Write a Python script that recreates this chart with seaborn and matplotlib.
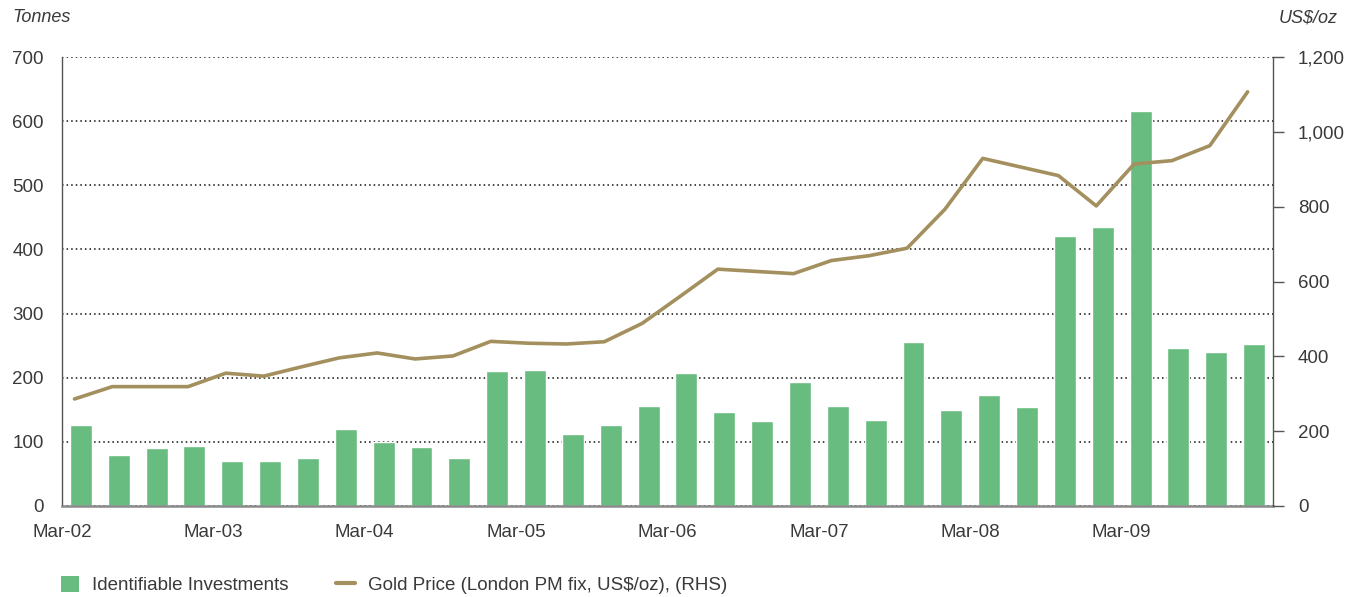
import numpy as np
import pandas as pd
import matplotlib
matplotlib.use("Agg")
import matplotlib.pyplot as plt
import seaborn as sns
from matplotlib.ticker import FuncFormatter
from matplotlib.patches import Patch
from matplotlib.lines import Line2D

# quarterly data, Q1 2002 .. Q4 2009
quarters = [f"{y}Q{q}" for y in range(2002, 2010) for q in range(1, 5)]
investments = [126, 79, 90, 93, 70, 70, 75, 120,
               100, 92, 75, 210, 212, 112, 126, 156,
               207, 146, 132, 194, 156, 134, 255, 149,
               173, 154, 421, 435, 616, 246, 240, 252]
gold_price = [286, 319, 319, 319, 355, 347, 372, 396,
              409, 393, 401, 440, 435, 433, 439, 488,
              560, 633, 627, 621, 656, 669, 689, 793,
              929, 906, 883, 802, 914, 923, 963, 1107]
year_labels = ["Mar-02", "Mar-03", "Mar-04", "Mar-05", "Mar-06",
               "Mar-07", "Mar-08", "Mar-09", ""]

BAR_COLOR = "#69bc80"
LINE_COLOR = "#a48f5e"
TEXT_COLOR = "#3a3a3a"

df = pd.DataFrame({"quarter": quarters, "tonnes": investments, "price": gold_price})

sns.set_theme(style="white")
plt.rcParams["font.family"] = ["Liberation Sans", "DejaVu Sans"]

fig = plt.figure(figsize=(13.59, 5.97), dpi=100)
ax = fig.add_axes([62 / 1359, 1 - 506 / 597, (1273 - 62) / 1359, (506 - 57) / 597])

sns.barplot(data=df, x="quarter", y="tonnes", order=quarters, color=BAR_COLOR,
            saturation=1, width=0.58, ax=ax)
ax.set_xlim(-0.5, len(quarters) - 0.5)
ax.set_ylim(0, 700)
ax.set_yticks(range(0, 701, 100))
ax.set_xticks(np.arange(-0.5, len(quarters), 4))
ax.set_xticklabels(year_labels)
ax.set_xlabel("")
ax.set_ylabel("")
ax.set_axisbelow(True)
ax.yaxis.grid(True, linestyle=(0, (1, 2)), color="#111111", linewidth=1.1)
ax.tick_params(axis="y", length=0, pad=13, labelsize=13.5, labelcolor=TEXT_COLOR)
ax.tick_params(axis="x", length=8, width=1, direction="out", color="#666666",
               pad=5, labelsize=13.5, labelcolor=TEXT_COLOR)
for side in ["top", "right"]:
    ax.spines[side].set_visible(False)
ax.spines["left"].set_color("#555555")
ax.spines["left"].set_linewidth(1)
ax.spines["bottom"].set_color("#8a8a8a")
ax.spines["bottom"].set_linewidth(1.8)

ax2 = ax.twinx()
sns.lineplot(x=np.arange(len(quarters)) - 0.17, y=gold_price, color=LINE_COLOR,
             linewidth=2.6, ax=ax2)
ax2.set_ylim(0, 1200)
ax2.set_yticks(range(0, 1201, 200))
ax2.yaxis.set_major_formatter(FuncFormatter(lambda v, p: f"{int(v):,}"))
ax2.grid(False)
ax2.tick_params(axis="y", length=8, width=1, direction="out", color="#555555",
                pad=10, labelsize=13.5, labelcolor=TEXT_COLOR)
for side in ["top", "left", "bottom"]:
    ax2.spines[side].set_visible(False)
ax2.spines["right"].set_color("#555555")
ax2.spines["right"].set_linewidth(1)

fig.text(12 / 1359, 1 - 18 / 597, "Tonnes", fontsize=13, style="italic",
         color=TEXT_COLOR, va="center", ha="left")
fig.text(1338 / 1359, 1 - 18 / 597, "US$/oz", fontsize=13, style="italic",
         color=TEXT_COLOR, va="center", ha="right")

handles = [Patch(facecolor=BAR_COLOR, edgecolor="none"),
           Line2D([0], [0], color=LINE_COLOR, linewidth=3)]
labels = ["Identifiable Investments", "Gold Price (London PM fix, US$/oz), (RHS)"]
fig.legend(handles, labels, loc="center left", bbox_to_anchor=(53 / 1359, 1 - 585 / 597),
           ncol=2, frameon=False, fontsize=13.5, handlelength=1.0, handleheight=1.0,
           columnspacing=2.5, handletextpad=0.7, labelcolor=TEXT_COLOR,
           borderaxespad=0)

fig.savefig("out.png", dpi=100)
